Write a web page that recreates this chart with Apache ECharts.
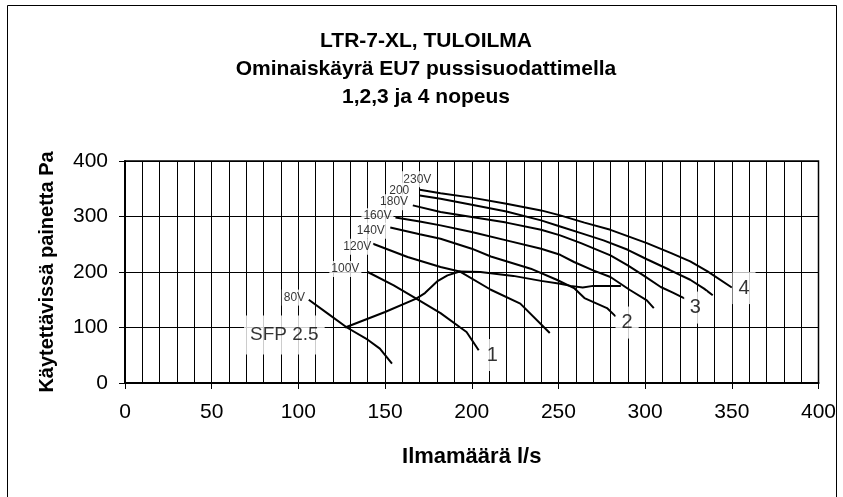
<!DOCTYPE html>
<html><head><meta charset="utf-8">
<script src="https://cdn.jsdelivr.net/npm/echarts@6/dist/echarts.min.js"></script>
<style>html,body{margin:0;padding:0;background:#fff}#c{width:843px;height:497px}</style>
</head><body><div id="c"></div><script>
// Data (x = Ilmamäärä l/s, y = Pa)
const xTickValues = [0, 50, 100, 150, 200, 250, 300, 350, 400];
const yTickValues = [0, 100, 200, 300, 400];
const v80  = [[106,150],[117,125],[128,100],[140,78],[147,62],[154,35]];
const v100 = [[140,200],[155,176],[168,152],[182,126],[193,101],[197,92],[204,59]];
const v120 = [[143,251],[163,227],[182,209],[193,201],[211,168],[228,143],[245,90]];
const v140 = [[153,280],[170,268],[182,260],[200,242],[211,228],[234,206],[249,186],[259,171],[265,153],[278,135],[283,120]];
const v160 = [[156,298],[170,291],[182,284],[200,272],[220,257],[240,242],[251,231],[259,218],[270,203],[280,191],[291,168],[301,149],[305,135]];
const v180 = [[166,320],[182,308],[200,299],[220,289],[240,276],[251,266],[263,252],[280,230],[290,212],[299,194],[309,173],[316,163],[323,152]];
const v200 = [[170,338],[182,332],[200,321],[220,309],[240,293],[251,282],[263,270],[276,257],[290,240],[301,223],[314,204],[326,186],[334,170],[339,158]];
const v230 = [[170,348],[182,342],[200,334],[220,323],[240,311],[251,302],[265,289],[280,276],[301,252],[315,234],[326,219],[336,201],[350,172]];
const sfp  = [[127,100],[150,128],[168,152],[173,162],[180,183],[186,194],[193,201],[205,200],[224,193],[240,184],[251,179],[257,175],[264,172],[270,175],[286,175]];
const voltLabels = [[168.6,367,'230V'],[158.2,346.5,'200'],[155.2,325.8,'180V'],[145.6,300.6,'160V'],[141.8,274.5,'140V'],[134,245.7,'120V'],[127.1,205.2,'100V'],[97.7,153.9,'80V']];
const speedLabels = [[211.9,50.4,'1'],[289.6,108.9,'2'],[329,135.9,'3'],[357,171,'4']];
const sfpLabel = [[91.9,86.4,'SFP 2.5']];

const curves = [v80, v100, v120, v140, v160, v180, v200, v230, sfp];
const font = 'Liberation Sans, Arial, sans-serif';

const chart = echarts.init(document.getElementById('c'));
const lineSeries = curves.map(d => ({
  type: 'line', data: d, symbol: 'none', smooth: false, silent: true,
  lineStyle: { color: '#000', width: 2 }, z: 3
}));
function labelSeries(arr, size, pad) {
  return {
    type: 'scatter', symbolSize: 0, z: 10, silent: true,
    data: arr.map(a => ({ value: [a[0], a[1]], name: a[2] })),
    label: { show: true, position: 'inside', formatter: p => p.name,
      color: '#000', fontFamily: font, fontSize: size,
      backgroundColor: '#fff', padding: pad }
  };
}
chart.setOption({
  animation: false,
  backgroundColor: '#fff',
  title: {
    text: 'LTR-7-XL, TULOILMA\nOminaiskäyrä EU7 pussisuodattimella\n1,2,3 ja 4 nopeus',
    left: 421, top: 22, textAlign: 'center',
    textStyle: { fontFamily: font, fontSize: 21, fontWeight: 'bold', color: '#000', lineHeight: 28, align: 'center' }
  },
  graphic: [{
    type: 'polyline', silent: true,
    shape: { points: [[7.5, 520], [7.5, 5.5], [836.5, 5.5], [836.5, 520]] },
    style: { stroke: '#000', lineWidth: 1, fill: null }
  }],
  grid: { left: 125, right: 24.5, top: 161, bottom: 114, show: true, borderColor: '#000', borderWidth: 1.5 },
  xAxis: [{
    type: 'value', min: xTickValues[0], max: xTickValues[xTickValues.length - 1], interval: 50,
    name: 'Ilmamäärä l/s', nameLocation: 'middle', nameGap: 63,
    nameTextStyle: { fontFamily: font, fontSize: 22, fontWeight: 'bold', color: '#000' },
    axisLine: { show: true, lineStyle: { color: '#000', width: 2 } },
    axisTick: { show: true, length: 6, lineStyle: { color: '#000', width: 1 } },
    axisLabel: { fontFamily: font, fontSize: 21, color: '#000', margin: 19 },
    splitLine: { show: false }
  }, {
    type: 'value', min: 0, max: 400, interval: 10, position: 'bottom',
    axisLine: { show: false }, axisTick: { show: false }, axisLabel: { show: false },
    splitLine: { show: true, lineStyle: { color: '#000', width: 1 } }
  }],
  yAxis: {
    type: 'value', min: yTickValues[0], max: yTickValues[yTickValues.length - 1], interval: 100,
    name: 'Käytettävissä painetta Pa', nameLocation: 'middle', nameGap: 68,
    nameTextStyle: { fontFamily: font, fontSize: 20, fontWeight: 'bold', color: '#000' },
    axisLine: { show: true, lineStyle: { color: '#000', width: 2 } },
    axisTick: { show: true, length: 6, lineStyle: { color: '#000', width: 1 } },
    axisLabel: { fontFamily: font, fontSize: 21, color: '#000', margin: 17 },
    splitLine: { show: true, lineStyle: { color: '#000', width: 1 } }
  },
  series: lineSeries.concat([
    labelSeries(voltLabels, 12, [2, 2]),
    labelSeries(speedLabels, 20, [6, 6]),
    labelSeries(sfpLabel, 19, [10, 6])
  ])
});
</script></body></html>
